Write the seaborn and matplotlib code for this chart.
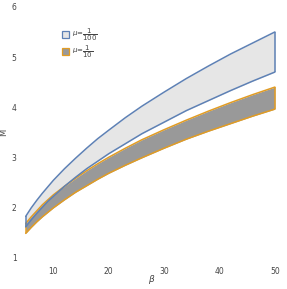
import numpy as np
import pandas as pd
import seaborn as sns
import matplotlib.pyplot as plt
from matplotlib.patches import Patch

sns.set_style("white")
plt.rcParams['font.family'] = ['DejaVu Sans']

# beta grid and the bounds of M
beta = [5, 6, 7, 8, 9, 10, 12, 14, 16, 18, 20, 23, 26, 30, 34, 38, 42, 46, 50]
# mu = 1/100
m100_hi = [1.82, 1.99, 2.14, 2.28, 2.41, 2.54, 2.77, 2.98, 3.18, 3.37, 3.54, 3.79, 4.02,
           4.30, 4.57, 4.82, 5.06, 5.28, 5.50]
m100_lo = [1.61, 1.75, 1.88, 2.00, 2.12, 2.22, 2.42, 2.60, 2.77, 2.92, 3.07, 3.27, 3.47,
           3.70, 3.93, 4.13, 4.33, 4.52, 4.70]
# mu = 1/10
m10_hi = [1.68, 1.81, 1.93, 2.05, 2.15, 2.25, 2.42, 2.58, 2.73, 2.87, 3.00, 3.18, 3.35,
          3.55, 3.74, 3.92, 4.09, 4.25, 4.40]
m10_lo = [1.48, 1.60, 1.71, 1.81, 1.90, 1.99, 2.15, 2.30, 2.43, 2.56, 2.68, 2.84, 2.99,
          3.18, 3.36, 3.52, 3.67, 3.82, 3.96]

x_ticks = [10, 20, 30, 40, 50]
y_ticks = [1, 2, 3, 4, 5, 6]

blue = '#5e81b5'
orange = '#e19c24'
light = '#e6e6e6'
dark = '#999999'

df = pd.DataFrame({'beta': beta, 'm100_hi': m100_hi, 'm100_lo': m100_lo,
                   'm10_hi': m10_hi, 'm10_lo': m10_lo})

fig, ax = plt.subplots(figsize=(2.87, 2.89), dpi=100)
fig.subplots_adjust(left=0.077, right=0.979, bottom=0.097, top=0.99)

# mu = 1/100 band
ax.fill_between(df.beta, df.m100_lo, df.m100_hi, color=light, lw=0, zorder=1)
sns.lineplot(data=df, x='beta', y='m100_hi', color=blue, lw=1.1, ax=ax, zorder=3)
sns.lineplot(data=df, x='beta', y='m100_lo', color=blue, lw=1.1, ax=ax, zorder=3)
ax.vlines([5, 50], [m100_lo[0], m100_lo[-1]], [m100_hi[0], m100_hi[-1]], color=blue, lw=1.1, zorder=3)

# mu = 1/10 band
ax.fill_between(df.beta, df.m10_lo, df.m10_hi, color=dark, lw=0, zorder=2)
sns.lineplot(data=df, x='beta', y='m10_hi', color=orange, lw=1.1, ax=ax, zorder=2.5)
sns.lineplot(data=df, x='beta', y='m10_lo', color=orange, lw=1.1, ax=ax, zorder=2.5)
ax.vlines([5, 50], [m10_lo[0], m10_lo[-1]], [m10_hi[0], m10_hi[-1]], color=orange, lw=1.1, zorder=2.5)

ax.set_xlim(4.35, 51.1)
ax.set_ylim(0.93, 6.08)
ax.set_xticks(x_ticks)
ax.set_yticks(y_ticks)
ax.tick_params(labelsize=5.5, labelcolor='#444444', length=2, width=0.5, color='#999999',
               pad=2, direction='out')
for s in ax.spines.values():
    s.set_visible(False)
ax.set_xlabel(r'$\beta$', fontsize=6.5, color='#444444')
ax.set_ylabel('M', fontsize=6, color='#444444')
ax.xaxis.set_label_coords(0.5, -0.045)
ax.yaxis.set_label_coords(-0.055, 0.5)

handles = [Patch(facecolor=light, edgecolor=blue, lw=0.9),
           Patch(facecolor=dark, edgecolor=orange, lw=0.9)]
labels = [r'$\mu$=$\dfrac{1}{100}$', r'$\mu$=$\dfrac{1}{10}$']
leg = ax.legend(handles, labels, loc='upper left', bbox_to_anchor=(0.13, 0.93), frameon=False,
                fontsize=5, handlelength=1.0, handleheight=1.2, handletextpad=0.4,
                labelspacing=0.1, labelcolor='#444444')

fig.savefig('out.png', dpi=100)
